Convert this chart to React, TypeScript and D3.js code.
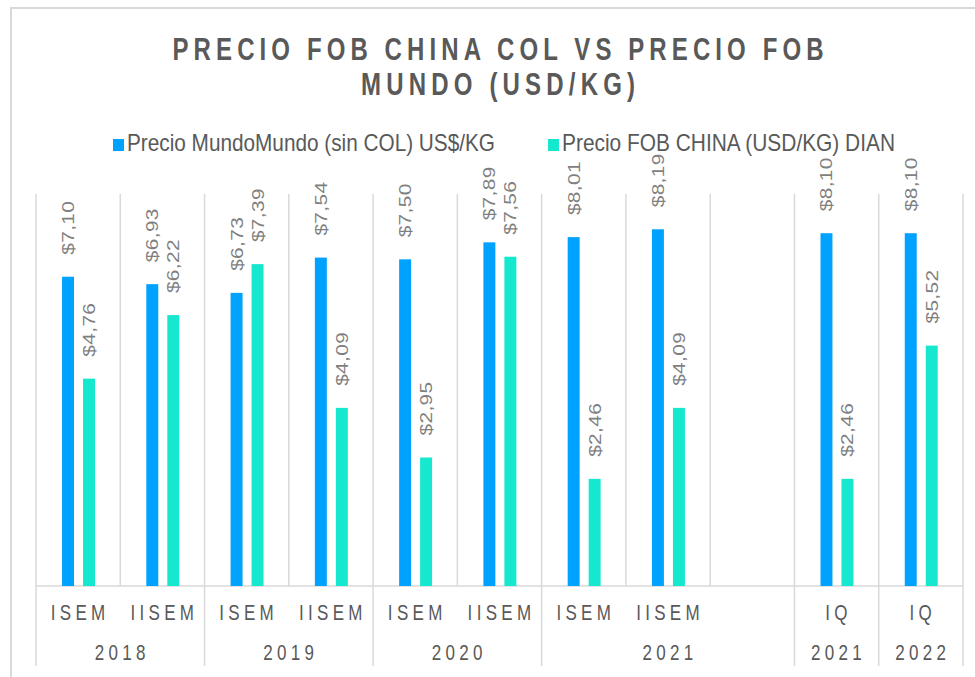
import React from "react";
import * as d3 from "d3";

const slotLabels = ["ISEM", "IISEM", "ISEM", "IISEM", "ISEM", "IISEM", "ISEM", "IISEM", "", "IQ", "IQ"];
const mundo: (number | null)[] = [7.1, 6.93, 6.73, 7.54, 7.5, 7.89, 8.01, 8.19, null, 8.1, 8.1];
const china: (number | null)[] = [4.76, 6.22, 7.39, 4.09, 2.95, 7.56, 2.46, 4.09, null, 2.46, 5.52];
const yearLabels = ["2018", "2019", "2020", "2021", "2021", "2022"];
const yearFirstSlot = [0, 2, 4, 6, 9, 10];
const yearLastSlot = [1, 3, 5, 8, 9, 10];
const seriesNames = ["Precio MundoMundo (sin COL) US$/KG", "Precio FOB CHINA (USD/KG) DIAN"];
const titleLines = ["PRECIO FOB CHINA COL VS PRECIO FOB", "MUNDO (USD/KG)"];

const W = 975;
const H = 677;
const BLUE = "#00a2ff";
const TEAL = "#16e7cf";
const GRID = "#d9d9d9";
const FONT = "'Liberation Sans', Arial, sans-serif";
const SY = 1.3;

const fmt = (v: number) => "$" + v.toFixed(2).replace(".", ",");

export default function App() {
  const idx = slotLabels.map((_, i) => String(i));
  const x = d3.scaleBand<string>().domain(idx).range([36, 963]).padding(0);
  const bw = x.bandwidth();
  const sub = d3
    .scaleBand<string>()
    .domain(["m", "c"])
    .range([bw * 0.309, bw * 0.7])
    .paddingInner(0.43)
    .paddingOuter(0);
  const y = d3.scaleLinear().domain([0, 9]).range([586, 194]);
  const base = y(0);

  const series = [
    { key: "m", values: mundo, color: BLUE },
    { key: "c", values: china, color: TEAL },
  ];

  return (
    <svg
      width={W}
      height={H}
      style={{ position: "absolute", left: 0, top: 0, background: "#fff" }}
      fontFamily={FONT}
    >
      {/* frame */}
      <line x1={10} x2={W} y1={8} y2={8} stroke={GRID} strokeWidth={2} />
      <line x1={11} x2={11} y1={8} y2={H} stroke={GRID} strokeWidth={2} />

      {/* title */}
      {titleLines.map((t, i) => (
        <g key={t} transform={`translate(${498},${60 + i * 35}) scale(1,1.3)`}>
          <text
            textAnchor="middle"
            fontSize={24}
            fontWeight="bold"
            fill="#595959"
            textLength={i === 0 ? 651 : 274}
            lengthAdjust="spacing"
          >
            {t}
          </text>
        </g>
      ))}

      {/* legend */}
      {seriesNames.map((name, i) => {
        const lx = i === 0 ? 113 : 548;
        const tw = i === 0 ? 368 : 333;
        return (
          <g key={name}>
            <rect x={lx} y={139} width={11} height={12} fill={i === 0 ? BLUE : TEAL} />
            <g transform={`translate(${lx + 14},151) scale(1,1.2)`}>
              <text fontSize={20} fill="#595959" textLength={tw} lengthAdjust="spacingAndGlyphs">
                {name}
              </text>
            </g>
          </g>
        );
      })}

      {/* vertical grid lines at slot boundaries */}
      {d3.range(slotLabels.length + 1).map((i) => {
        const gx = 36 + i * bw;
        const isGroup = i === 0 || yearLastSlot.some((s) => s + 1 === i);
        return (
          <line
            key={i}
            x1={gx}
            x2={gx}
            y1={194}
            y2={isGroup ? 666 : base}
            stroke={GRID}
            strokeWidth={1.5}
          />
        );
      })}
      <line x1={36} x2={963} y1={base} y2={base} stroke={GRID} strokeWidth={1.5} />

      {/* bars */}
      {series.map((s) =>
        s.values.map((v, i) =>
          v == null ? null : (
            <rect
              key={s.key + i}
              x={(x(String(i)) as number) + (sub(s.key) as number)}
              y={y(v)}
              width={sub.bandwidth()}
              height={base - y(v)}
              fill={s.color}
            />
          )
        )
      )}

      {/* data labels */}
      {series.map((s) =>
        s.values.map((v, i) => {
          if (v == null) return null;
          const cx = (x(String(i)) as number) + (sub(s.key) as number) + sub.bandwidth() / 2;
          return (
            <g key={"l" + s.key + i} transform={`translate(${cx + 6},${y(v) - 22}) scale(1,${SY}) rotate(-90)`}>
              <text fontSize={16} fill="#7f7f7f" letterSpacing={0.3}>
                {fmt(v)}
              </text>
            </g>
          );
        })
      )}

      {/* slot labels */}
      {slotLabels.map((l, i) =>
        l ? (
          <g key={"s" + i} transform={`translate(${(x(String(i)) as number) + bw / 2 + 2},620) scale(1,${SY})`}>
            <text textAnchor="middle" fontSize={17} fill="#595959" letterSpacing={4.3}>
              {l}
            </text>
          </g>
        ) : null
      )}

      {/* year labels */}
      {yearLabels.map((yl, k) => {
        const x0 = x(String(yearFirstSlot[k])) as number;
        const x1 = (x(String(yearLastSlot[k])) as number) + bw;
        return (
          <g key={"y" + k} transform={`translate(${(x0 + x1) / 2 + 2},660) scale(1,${SY})`}>
            <text textAnchor="middle" fontSize={17} fill="#595959" letterSpacing={4.3}>
              {yl}
            </text>
          </g>
        );
      })}
    </svg>
  );
}
